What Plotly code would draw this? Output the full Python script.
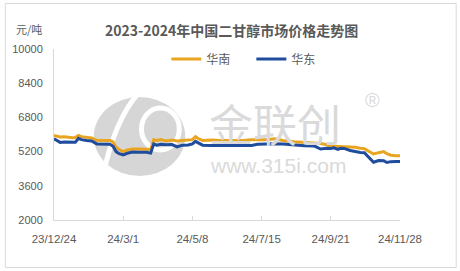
import plotly.graph_objects as go

dates = ["2023-12-24","2023-12-27","2023-12-30","2024-01-03","2024-01-07","2024-01-11","2024-01-14",
         "2024-01-17","2024-01-20","2024-01-25","2024-01-30","2024-02-04","2024-02-10","2024-02-17",
         "2024-02-20","2024-02-23","2024-02-26","2024-03-01","2024-03-05","2024-03-10","2024-03-17",
         "2024-03-24","2024-03-28","2024-03-31","2024-04-03","2024-04-07","2024-04-12","2024-04-18",
         "2024-04-23","2024-04-28","2024-05-04","2024-05-08","2024-05-11","2024-05-14","2024-05-18",
         "2024-05-27","2024-06-03","2024-06-11","2024-06-19","2024-06-27","2024-07-05","2024-07-11",
         "2024-07-19","2024-07-28","2024-08-05","2024-08-16","2024-08-26","2024-09-05","2024-09-11",
         "2024-09-17","2024-09-21","2024-09-24","2024-09-28","2024-10-01","2024-10-04","2024-10-10",
         "2024-10-15","2024-10-20","2024-10-24","2024-10-27","2024-10-30","2024-11-02","2024-11-07",
         "2024-11-12","2024-11-15","2024-11-19","2024-11-24","2024-11-28"]

south_china = [5950,5900,5880,5900,5870,5850,5860,
               5960,5900,5860,5840,5730,5720,5720,
               5650,5400,5300,5200,5280,5320,5320,
               5320,5300,5750,5720,5760,5700,5740,
               5700,5720,5730,5760,5900,5800,5720,
               5740,5720,5720,5700,5720,5750,5740,
               5760,5800,5720,5660,5620,5600,5580,
               5520,5450,5450,5440,5440,5430,5430,
               5400,5360,5340,5250,5150,5090,5150,
               5200,5100,5030,5010,5010]

east_china = [5800,5700,5630,5650,5640,5650,5640,
              5820,5760,5720,5700,5560,5550,5540,
              5450,5200,5100,5050,5120,5180,5170,
              5170,5130,5560,5500,5540,5520,5530,
              5420,5500,5510,5560,5680,5600,5500,
              5480,5480,5470,5480,5480,5490,5540,
              5560,5570,5550,5500,5470,5460,5320,
              5360,5350,5380,5300,5360,5350,5250,
              5200,5160,5150,5000,4880,4700,4780,
              4770,4690,4730,4740,4740]

tick_dates = ["2023-12-24","2024-03-01","2024-05-08","2024-07-15","2024-09-21","2024-11-28"]
tick_labels = ["23/12/24","24/3/1","24/5/8","24/7/15","24/9/21","24/11/28"]
y_ticks = [2000,3600,5200,6800,8400,10000]
y_labels = ["2000","3600","5200","6800","8400","10000"]

W, H = 460, 271
L, R, T, B = 52, 60, 49, 51
PW, PH = W - L - R, H - T - B

def px(x):
    return (x - L) / PW

def py(y):
    return (H - B - y) / PH

GREY = "#595959"
fig = go.Figure()
fig.add_trace(go.Scatter(x=dates, y=south_china, name="华南", mode="lines",
                         line=dict(color="#E9A520", width=3)))
fig.add_trace(go.Scatter(x=dates, y=east_china, name="华东", mode="lines",
                         line=dict(color="#1F4C9C", width=3)))

shapes = [
    dict(type="rect", xref="paper", yref="paper", x0=px(3), x1=px(456.5), y0=py(267.5), y1=py(3.5),
         line=dict(color="#D9D9D9", width=1), layer="below"),
    dict(type="circle", xref="paper", yref="paper", x0=px(92), x1=px(184), y0=py(176), y1=py(97),
         fillcolor="#D6D6D6", line=dict(width=0), layer="below"),
    dict(type="path", xref="paper", yref="paper",
         path=f"M {px(100)},{py(182)} Q {px(112)},{py(120)} {px(138)},{py(92)}",
         line=dict(color="white", width=5), layer="below"),
    dict(type="circle", xref="paper", yref="paper", x0=px(140), x1=px(178), y0=py(150), y1=py(108),
         line=dict(color="white", width=5), layer="below"),
]

annotations = [
    dict(text="2023-2024年中国二甘醇市场价格走势图", xref="paper", yref="paper", x=px(231), y=py(30),
         xanchor="center", yanchor="middle", showarrow=False,
         font=dict(size=14, color=GREY, family="Noto Sans CJK SC", weight="bold")),
    dict(text="元/吨", xref="paper", yref="paper", x=px(27), y=py(29), xanchor="center", yanchor="middle",
         showarrow=False, font=dict(size=11, color=GREY, family="Noto Sans CJK SC")),
    dict(text="金联创", xref="paper", yref="paper", x=px(274), y=py(123), xanchor="center", yanchor="middle",
         showarrow=False, font=dict(size=44, color="#DADADA", family="Noto Sans CJK SC")),
    dict(text="®", xref="paper", yref="paper", x=px(372), y=py(100), xanchor="center", yanchor="middle",
         showarrow=False, font=dict(size=20, color="#DADADA", family="Liberation Sans")),
    dict(text="www.315i.com", xref="paper", yref="paper", x=px(277), y=py(165), xanchor="center",
         yanchor="middle", showarrow=False, font=dict(size=21, color="#DADADA", family="Liberation Sans")),
]

fig.update_layout(
    width=W, height=H,
    margin=dict(l=L, r=R, t=T, b=B),
    paper_bgcolor="white", plot_bgcolor="white",
    font=dict(family="Liberation Sans", size=11, color=GREY),
    showlegend=True,
    legend=dict(orientation="h", x=px(165), y=py(59), xanchor="left", yanchor="middle",
                font=dict(size=12, color=GREY, family="Noto Sans CJK SC"),
                bgcolor="rgba(0,0,0,0)", entrywidth=40, tracegroupgap=0),
    shapes=shapes,
    annotations=annotations,
    xaxis=dict(type="date", range=["2023-12-24", "2024-11-28"], tickvals=tick_dates, ticktext=tick_labels,
               showgrid=False, zeroline=False, showline=True, linecolor="#D9D9D9", linewidth=1,
               ticks="inside", ticklen=4, tickcolor="#D9D9D9", ticklabelstandoff=8,
               tickfont=dict(size=11.5, color=GREY)),
    yaxis=dict(range=[2000, 10000], tickvals=y_ticks, ticktext=y_labels, showgrid=False, zeroline=False,
               showline=True, linecolor="#D9D9D9", linewidth=1, ticks="",
               ticklabelstandoff=8, tickfont=dict(size=11, color=GREY)),
)

fig.write_html("out.html")
